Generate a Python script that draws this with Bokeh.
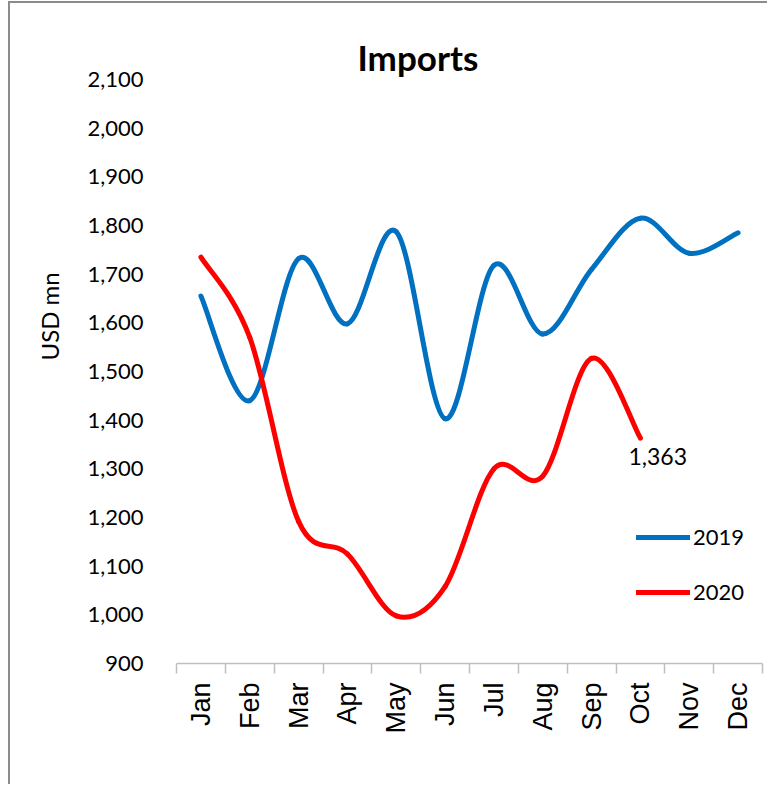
import math
from bokeh.plotting import figure
from bokeh.models import (Range1d, FixedTicker, NumeralTickFormatter, Legend,
                          LegendItem, Label, Title, ColumnDataSource)
from bokeh.embed import file_html
from bokeh.resources import INLINE

# ---- data ----
months = ["Jan", "Feb", "Mar", "Apr", "May", "Jun",
          "Jul", "Aug", "Sep", "Oct", "Nov", "Dec"]
imports_2019 = [1655, 1440, 1732, 1598, 1787, 1403, 1718, 1577, 1710, 1815, 1743, 1785]
imports_2020 = [1735, 1570, 1192, 1125, 998, 1058, 1300, 1285, 1527, 1363]
y_ticks = [900, 1000, 1100, 1200, 1300, 1400, 1500, 1600, 1700, 1800, 1900, 2000, 2100]
last_label = "1,363"

FONT = "Lato"
XFONT = "Liberation Sans"


def smooth_source(values):
    """Cubic Bezier segments through the points (Excel-style smoothed line)."""
    n = len(values)
    xs = [i + 0.5 for i in range(n)]
    d = dict(x0=[], y0=[], x1=[], y1=[], cx0=[], cy0=[], cx1=[], cy1=[])
    for i in range(n - 1):
        a = max(i - 1, 0)
        b = min(i + 2, n - 1)
        d["x0"].append(xs[i]); d["y0"].append(values[i])
        d["x1"].append(xs[i + 1]); d["y1"].append(values[i + 1])
        d["cx0"].append(xs[i] + (xs[i + 1] - xs[a]) / 6.0)
        d["cy0"].append(values[i] + (values[i + 1] - values[a]) / 6.0)
        d["cx1"].append(xs[i + 1] - (xs[b] - xs[i]) / 6.0)
        d["cy1"].append(values[i + 1] - (values[b] - values[i]) / 6.0)
    return ColumnDataSource(d)


p = figure(width=759, height=783, output_backend="svg", toolbar_location=None,
           x_range=Range1d(0, 12), y_range=Range1d(900, 2100),
           min_border_left=166, min_border_right=7,
           min_border_top=76, min_border_bottom=123)
p.margin = (1, 0, 0, 8)
p.styles = {"border-left": "2px solid #8c8c8c", "border-top": "2px solid #8c8c8c"}

p.outline_line_color = None
p.xgrid.grid_line_color = None
p.ygrid.grid_line_color = None

# title
p.title.text = "Imports"
p.title.text_font = FONT
p.title.text_font_size = "35px"
p.title.text_font_style = "bold"
p.title.text_color = "#000000"
p.title.align = "left"
p.title.offset = 181
p.title.standoff = 3

r19 = p.bezier(x0="x0", y0="y0", x1="x1", y1="y1", cx0="cx0", cy0="cy0",
               cx1="cx1", cy1="cy1", source=smooth_source(imports_2019),
               line_color="#0070C0", line_width=5, line_cap="round")
r20 = p.bezier(x0="x0", y0="y0", x1="x1", y1="y1", cx0="cx0", cy0="cy0",
               cx1="cx1", cy1="cy1", source=smooth_source(imports_2020),
               line_color="#FF0000", line_width=5, line_cap="round")

# x axis
xa = p.xaxis[0]
xa.ticker = FixedTicker(ticks=[i + 0.5 for i in range(len(months))],
                        minor_ticks=list(range(len(months) + 1)))
xa.major_label_overrides = {i + 0.5: m for i, m in enumerate(months)}
xa.major_label_orientation = math.pi / 2
xa.major_tick_line_color = None
xa.major_tick_out = 0
xa.major_tick_in = 0
xa.minor_tick_line_color = "#bfbfbf"
xa.minor_tick_line_width = 1.5
xa.minor_tick_out = 10
xa.minor_tick_in = 0
xa.axis_line_color = "#bfbfbf"
xa.axis_line_width = 1.5
xa.major_label_standoff = 9
xa.major_label_text_font = XFONT
xa.major_label_text_font_size = "27px"
xa.major_label_text_color = "#000000"

# y axis
ya = p.yaxis[0]
ya.ticker = FixedTicker(ticks=y_ticks)
ya.formatter = NumeralTickFormatter(format="0,0")
ya.axis_line_color = None
ya.major_tick_line_color = None
ya.minor_tick_line_color = None
ya.major_tick_out = 0
ya.major_tick_in = 0
ya.major_label_standoff = 33
ya.major_label_text_font = FONT
ya.major_label_text_font_size = "22px"
ya.major_label_text_color = "#000000"

# y axis title
p.add_layout(Title(text="USD mn", align="left", offset=303, standoff=41,
                   text_font=FONT, text_font_size="24px",
                   text_font_style="normal", text_color="#000000"), "left")

# last value label
p.add_layout(Label(x=len(imports_2020) - 0.5, y=imports_2020[-1], text=last_label,
                   x_offset=-12, y_offset=-10, text_align="left",
                   text_baseline="top", text_font=FONT,
                   text_font_size="23px", text_color="#000000"))

legend = Legend(items=[LegendItem(label="2019", renderers=[r19]),
                       LegendItem(label="2020", renderers=[r20])],
                location=(460, 58), orientation="vertical",
                glyph_width=54, glyph_height=20, label_height=20,
                label_standoff=3, spacing=28, padding=0, margin=0,
                border_line_color=None, background_fill_alpha=0,
                label_text_font=FONT, label_text_font_size="22px",
                label_text_color="#000000")
p.add_layout(legend)

open("out.html", "w").write(file_html(p, INLINE))
